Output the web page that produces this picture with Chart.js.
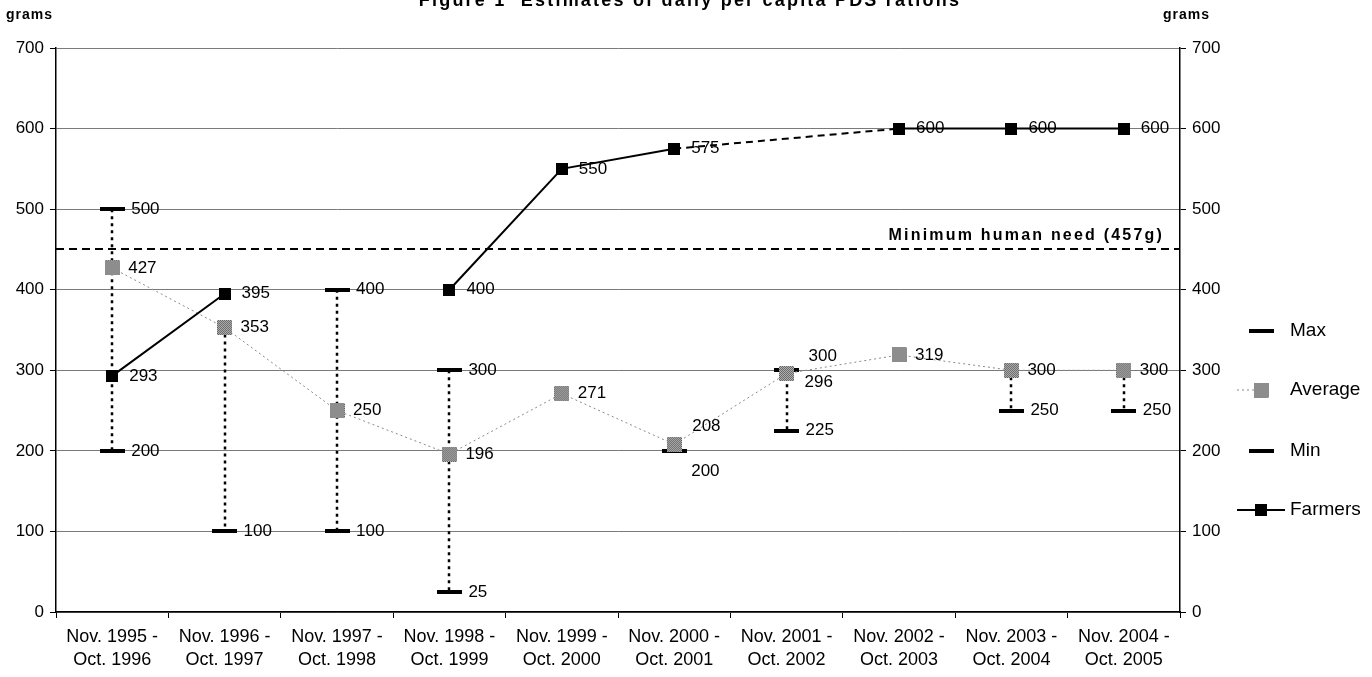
<!DOCTYPE html>
<html>
<head>
<meta charset="utf-8">
<title>PDS rations</title>
<script src="https://cdn.jsdelivr.net/npm/chart.js@4.4.0/dist/chart.umd.min.js"></script>
<style>
  html, body { margin: 0; padding: 0; background: #fff; }
  #wrap { width: 1372px; height: 677px; }
</style>
</head>
<body>
<div id="wrap"><canvas id="chRation" width="1372" height="677"></canvas></div>
<script>
/* daily per capita PDS rations, grams */
const categories = [
  ['Nov. 1995 -', 'Oct. 1996'], ['Nov. 1996 -', 'Oct. 1997'], ['Nov. 1997 -', 'Oct. 1998'],
  ['Nov. 1998 -', 'Oct. 1999'], ['Nov. 1999 -', 'Oct. 2000'], ['Nov. 2000 -', 'Oct. 2001'],
  ['Nov. 2001 -', 'Oct. 2002'], ['Nov. 2002 -', 'Oct. 2003'], ['Nov. 2003 -', 'Oct. 2004'],
  ['Nov. 2004 -', 'Oct. 2005']
];
const maxRation = [500, null, 400, 300, null, null, 300, null, null, null];
const avgRation = [427, 353, 250, 196, 271, 208, 296, 319, 300, 300];
const minRation = [200, 100, 100, 25, null, 200, 225, null, 250, 250];
const farmers   = [293, 395, null, 400, 550, 575, null, 600, 600, 600];
// estimated stretch between 2000-01 and 2002-03
const farmersGap = [null, null, null, null, null, 575, null, 600, null, null];
const needLevel = 450;
const needLabel = 'Minimum human need (457g)';
const yTicks = [0, 100, 200, 300, 400, 500, 600, 700];

const FONT = '"Liberation Sans", Arial, sans-serif';

// marker images
function dash(w, h) {
  const c = document.createElement('canvas');
  c.width = w; c.height = h;
  const g = c.getContext('2d');
  g.fillStyle = '#000';
  g.fillRect(0, 0, w, h);
  return c;
}
function grayBox(s) {
  const c = document.createElement('canvas');
  c.width = s; c.height = s;
  const g = c.getContext('2d');
  for (let i = 0; i < s; i++) {
    for (let j = 0; j < s; j++) {
      g.fillStyle = (i + j) % 2 ? '#5a5a5a' : '#c0c0c0';
      g.fillRect(i, j, 1, 1);
    }
  }
  return c;
}
function blackBox(s) {
  const c = document.createElement('canvas');
  c.width = s; c.height = s;
  const g = c.getContext('2d');
  g.fillStyle = '#000';
  g.fillRect(0, 0, s, s);
  return c;
}
const dashImg = dash(25, 4);
const avgImg = grayBox(15);
const farmImg = blackBox(12);

// label shifts for crowded points (dataset label + index)
const labelShift = {
  'Average5': [18, -18],
  'Min5': [17, 20],
  'Max6': [22, -14],
  'Average6': [18, 9]
};

const valueLabels = {
  id: 'valueLabels',
  afterDatasetsDraw(chart) {
    const ctx = chart.ctx;
    ctx.save();
    ctx.font = '17px ' + FONT;
    ctx.fillStyle = '#000';
    ctx.textBaseline = 'middle';
    chart.data.datasets.forEach((ds, di) => {
      if (!ds.showValues) return;
      const meta = chart.getDatasetMeta(di);
      meta.data.forEach((pt, i) => {
        const v = ds.data[i];
        if (v == null) return;
        const off = labelShift[ds.label + i] || [ds.labelGap, 0];
        ctx.fillText(String(v), pt.x + off[0], pt.y + off[1]);
      });
    });
    ctx.restore();
  }
};

// dotted high-low lines and the minimum need line
const extras = {
  id: 'extras',
  beforeDatasetsDraw(chart) {
    const ctx = chart.ctx;
    const xs = chart.scales.x, ys = chart.scales.y;
    const area = chart.chartArea;
    ctx.save();
    ctx.strokeStyle = '#000';
    ctx.lineWidth = 2.5;
    ctx.setLineDash([3, 4]);
    categories.forEach((c, i) => {
      const vals = [maxRation[i], avgRation[i], minRation[i]].filter(v => v != null);
      if (vals.length < 2) return;
      const x = Math.round(xs.getPixelForValue(i));
      ctx.beginPath();
      ctx.moveTo(x, ys.getPixelForValue(Math.max(...vals)));
      ctx.lineTo(x, ys.getPixelForValue(Math.min(...vals)));
      ctx.stroke();
    });
    const yn = Math.round(ys.getPixelForValue(needLevel));
    ctx.lineWidth = 2;
    ctx.setLineDash([8, 5]);
    ctx.beginPath();
    ctx.moveTo(area.left, yn);
    ctx.lineTo(area.right, yn);
    ctx.stroke();
    ctx.setLineDash([]);
    ctx.font = 'bold 16px ' + FONT;
    ctx.letterSpacing = '2.2px';
    ctx.textAlign = 'right';
    ctx.textBaseline = 'bottom';
    ctx.fillStyle = '#000';
    ctx.fillText(needLabel, area.right - 16, yn - 5);
    ctx.restore();
  },
  afterDraw(chart) {
    const ctx = chart.ctx;
    ctx.save();
    ctx.fillStyle = '#000';
    ctx.font = 'bold 18px ' + FONT;
    ctx.letterSpacing = '2.2px';
    ctx.textAlign = 'center';
    ctx.textBaseline = 'alphabetic';
    ctx.fillText('Figure 1  Estimates of daily per capita PDS rations', 690, 6);
    ctx.font = 'bold 14px ' + FONT;
    ctx.letterSpacing = '1px';
    ctx.textAlign = 'left';
    ctx.textBaseline = 'middle';
    ctx.fillText('grams', 6, 15);
    ctx.fillText('grams', 1163, 15);

    // legend
    ctx.letterSpacing = '0px';
    ctx.font = '19px ' + FONT;
    const rows = [331, 390, 451, 510];
    chart.data.datasets.forEach((ds, di) => {
      if (ds.hideInLegend) return;
      const y = rows[di];
      if (ds.legendLine) {
        ctx.save();
        ctx.strokeStyle = ds.borderColor;
        ctx.lineWidth = ds.borderWidth;
        ctx.setLineDash(ds.borderDash || []);
        ctx.beginPath();
        ctx.moveTo(1237, y);
        ctx.lineTo(ds.label === 'Average' ? 1255 : 1285, y);
        ctx.stroke();
        ctx.restore();
      }
      const img = ds.pointStyle;
      ctx.drawImage(img, 1261 - img.width / 2, y - img.height / 2);
      ctx.fillText(ds.label, 1290, y);
    });
    ctx.restore();
  }
};

new Chart(document.getElementById('chRation'), {
  type: 'line',
  data: {
    labels: categories,
    datasets: [
      {
        label: 'Max', data: maxRation, showLine: false,
        pointStyle: dashImg, pointRadius: 6, showValues: true, labelGap: 19
      },
      {
        label: 'Average', data: avgRation, borderColor: '#8a8a8a', borderWidth: 1,
        borderDash: [2, 3], pointStyle: avgImg, pointRadius: 7, showValues: true,
        labelGap: 16, legendLine: true, order: -1
      },
      {
        label: 'Min', data: minRation, showLine: false,
        pointStyle: dashImg, pointRadius: 6, showValues: true, labelGap: 19
      },
      {
        label: 'Farmers', data: farmers, borderColor: '#000', borderWidth: 2,
        pointStyle: farmImg, pointRadius: 6, showValues: true, labelGap: 17,
        legendLine: true, spanGaps: false, order: -2
      },
      {
        label: 'Farmers (gap)', data: farmersGap, borderColor: '#000', borderWidth: 2,
        borderDash: [7, 5], pointRadius: 0, spanGaps: true, hideInLegend: true
      }
    ]
  },
  options: {
    responsive: false,
    animation: false,
    layout: { padding: { top: 48, right: 152, bottom: 0, left: 0 } },
    plugins: {
      legend: { display: false },
      tooltip: { enabled: false }
    },
    scales: {
      x: {
        offset: true,
        grid: { display: true, drawOnChartArea: false, offset: true, tickLength: 6, color: '#000' },
        border: { color: '#000', width: 1.5 },
        ticks: {
          color: '#000', maxRotation: 0, autoSkip: false, padding: 7,
          font: { family: FONT, size: 18, lineHeight: 1.3 }
        },
        afterFit(s) { s.height = 65; }
      },
      y: {
        position: 'left', min: 0, max: 700,
        afterBuildTicks(s) { s.ticks = yTicks.map(v => ({ value: v })); },
        grid: { color: '#7a7a7a', lineWidth: 1, tickLength: 6, tickColor: '#000' },
        border: { color: '#000', width: 1.5 },
        ticks: { color: '#000', padding: 6, font: { family: FONT, size: 17 } },
        afterFit(s) { s.width = 56; }
      },
      y2: {
        position: 'right', min: 0, max: 700,
        afterBuildTicks(s) { s.ticks = yTicks.map(v => ({ value: v })); },
        grid: { drawOnChartArea: false, tickLength: 6, color: '#000' },
        border: { color: '#000', width: 1.5 },
        ticks: { color: '#000', padding: 6, font: { family: FONT, size: 17 } },
        afterFit(s) { s.width = 40; }
      }
    }
  },
  plugins: [extras, valueLabels]
});
</script>
</body>
</html>
